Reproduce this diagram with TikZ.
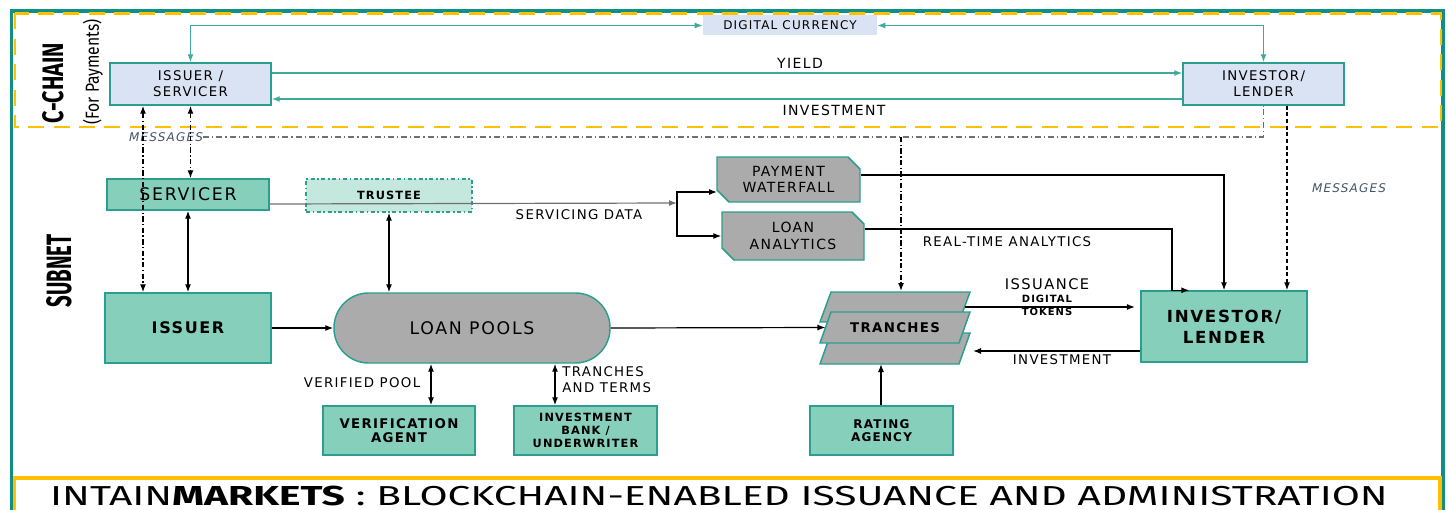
\documentclass[tikz,border=0pt]{standalone}
\usepackage{fontspec}
\setmainfont{DejaVu Sans}[LetterSpace=10]
\newfontfamily\headfont{Fira Sans}
\usetikzlibrary{arrows.meta,shapes.misc}

\definecolor{frameteal}{RGB}{18,143,131}
\definecolor{boxteal}{RGB}{42,158,144}
\definecolor{lineteal}{RGB}{64,168,157}
\definecolor{nodegreen}{RGB}{134,207,186}
\definecolor{trustgreen}{RGB}{197,232,222}
\definecolor{chainblue}{RGB}{218,227,243}
\definecolor{poolgray}{RGB}{171,171,171}
\definecolor{chainyellow}{RGB}{255,192,0}
\definecolor{msggray}{RGB}{112,112,112}
\definecolor{msgtext}{RGB}{68,84,106}

\tikzset{
  chainbox/.style={draw=boxteal, fill=chainblue, line width=1.1pt, align=center, inner sep=0pt, font=\fontsize{10}{12}\selectfont},
  subbox/.style={draw=boxteal, fill=nodegreen, line width=1.1pt, align=center, inner sep=0pt},
  poolbox/.style={draw=boxteal, fill=poolgray, line width=1.1pt, align=center, inner sep=0pt},
  snipbox/.style={poolbox, chamfered rectangle, chamfered rectangle corners={north east,south west}, chamfered rectangle xsep=5pt, chamfered rectangle ysep=4pt},
  tranche/.style={draw=boxteal, fill=poolgray, line width=1.1pt},
  lbl/.style={inner sep=0pt, align=center, font=\fontsize{10}{12}\selectfont},
  msglbl/.style={inner sep=0pt, text=msgtext, font=\fontsize{9}{10}\itshape},
  link/.style={line width=0.9pt},
  teallink/.style={draw=lineteal, line width=1.1pt},
  msgline/.style={draw=msggray, line width=1pt, dash pattern=on 4.5pt off 2.2pt on 1pt off 2.2pt},
  dashdot/.style={line width=1pt, dash pattern=on 4pt off 1.8pt on 1pt off 1.8pt},
}

\begin{document}
\begin{tikzpicture}[x=0.75pt,y=0.75pt,yscale=-1,xscale=1,>={Latex[length=6pt,width=4.5pt]}]
\useasboundingbox (0,0) rectangle (1448,510);

%Outer frame and c-chain band
\draw[frameteal, line width=2.5pt] (11.5,11) rectangle (1443,540);
\draw[chainyellow, line width=2.2pt, dash pattern=on 12pt off 7pt] (15,13.5) rectangle (1441,127);

% Side headings
\node[inner sep=0pt, rotate=90] (chainhd) at (53,83) {\resizebox{60pt}{15.75pt}{\headfont\bfseries C-CHAIN}};
\node[inner sep=0pt, rotate=90] (payhd) at (93,72) {\resizebox*{78.75pt}{15pt}{\headfont (For Payments)}};
\node[inner sep=0pt, rotate=90] (subhd) at (59,271) {\resizebox{54.75pt}{18.75pt}{\headfont\bfseries SUBNET}};

%C-chain nodes
\node[chainbox, minimum width=120.75pt, minimum height=31.5pt] (is) at (190.5,84) {ISSUER /\\SERVICER};
\node[chainbox, minimum width=120.75pt, minimum height=31.5pt] (il) at (1263.5,84) {INVESTOR/\\LENDER};
\node[fill=chainblue, inner sep=0pt, minimum width=130.5pt, minimum height=15pt, font=\fontsize{9}{10}\selectfont] (dc) at (790,25.5) {DIGITAL CURRENCY};

% Level and column marks
\coordinate (yieldY) at (0,73);
\coordinate (investY) at (0,99);
\coordinate (dataY) at (0,204);
\coordinate (pwY) at (0,175);
\coordinate (laY) at (0,229);
\coordinate (msgX) at (1287,0);
\coordinate (issX) at (143,0);
\coordinate (vaX) at (431,0);
\coordinate (ibX) at (555,0);
\coordinate (laX) at (1172,0);
\coordinate (split) at (677,203);
\coordinate (pwIn) at (717,192);
\coordinate (msgT) at (901,137);

%Subnet nodes
\node[subbox, minimum width=121.5pt, minimum height=23.25pt, font=\fontsize{13}{14}\selectfont] (sv) at (188,194.5) {SERVICER};
\node[subbox, fill=trustgreen, dash dot, minimum width=124.5pt, minimum height=24.75pt, font=\fontsize{8.5}{10}\bfseries] (tr) at (389,195.5) {TRUSTEE};
\node[snipbox, minimum width=107.25pt, minimum height=33.75pt, font=\fontsize{10.5}{11.5}\selectfont] (pw) at (788.5,179.5) {PAYMENT\\WATERFALL};
\node[snipbox, minimum width=106.5pt, minimum height=36pt, font=\fontsize{10.5}{13}\selectfont] (la) at (793,236) {LOAN\\ANALYTICS};
\node[subbox, minimum width=124.5pt, minimum height=52.5pt, font=\fontsize{12}{14}\bfseries] (iss) at (188,328) {ISSUER};
\node[poolbox, rounded corners=26pt, minimum width=207pt, minimum height=52.5pt, font=\fontsize{13}{14}\selectfont] (lp) at (472,328) {LOAN POOLS};
\node[subbox, minimum width=114pt, minimum height=36.75pt, font=\fontsize{10}{11}\bfseries] (va) at (399,430.5) {VERIFICATION\\AGENT};
\node[subbox, minimum width=107.25pt, minimum height=36.75pt, font=\fontsize{8.5}{10}\bfseries] (ib) at (585.5,430.5) {INVESTMENT\\BANK /\\UNDERWRITER};
\node[subbox, minimum width=107.25pt, minimum height=36.75pt, font=\fontsize{9}{9.75}\bfseries] (ra) at (881.5,430.5) {RATING\\AGENCY};
\node[subbox, minimum width=124.5pt, minimum height=53.25pt, font=\fontsize{12.5}{15.5}\bfseries] (inv) at (1224,326.5) {INVESTOR/\\LENDER};

%Shape: stacked tranches
\draw[tranche] (831,292) -- (970,292) -- (959,322) -- (820,322) -- cycle;
\draw[tranche] (831,333) -- (970,333) -- (959,364) -- (820,364) -- cycle;
\draw[tranche] (831,312) -- (970,312) -- (959,343) -- (820,343) -- cycle;
\node[inner sep=0pt, minimum width=104pt, minimum height=20pt, font=\fontsize{10}{12}\bfseries] (tranches) at (895,327.5) {TRANCHES};
\coordinate (tTop) at (901,291);
\coordinate (tBot) at (881,364);
\coordinate (tIss) at (965,307);
\coordinate (tInv) at (973,351);

%C-chain payments
\draw[teallink, color=lineteal, <->] (is.north) |- (dc.west);
\draw[teallink, color=lineteal, <->] (il.north) |- (dc.east);
\draw[teallink, color=lineteal, ->] (is.east |- yieldY) -- (il.west |- yieldY);
\draw[teallink, color=lineteal, ->] (il.west |- investY) -- (is.east |- investY);
\node[lbl, font=\fontsize{10.5}{12}\selectfont] (yieldlbl) at (800,63) {YIELD};
\node[lbl, font=\fontsize{10.5}{12}\selectfont] (invlbl) at (834,110) {INVESTMENT};

% Messages
\node[msglbl] (msgl) at (166,137) {MESSAGES};
\node[msglbl] (msgr) at (1349,188) {MESSAGES};
\draw[msgline] (msgl.east) -| (il.south);
\draw[dashdot, ->] (msgT) -- (tTop);
\draw[line width=1pt, densely dashed, ->] (il.south -| msgX) -- (inv.north -| msgX);
\draw[dashdot, <->] (is.south -| issX) -- (iss.north -| issX);
\draw[dashdot, <->] (is.south) -- (sv.north -| is.south);

% Servicing data
\draw[link, draw=msggray, ->] (sv.east |- dataY) -- (split);
\draw[link, ->] (split) |- (pwIn);
\draw[link, ->] (split) |- (la.west);
\node[lbl] (sdlbl) at (579,215) {SERVICING DATA};

%Subnet links
\draw[link, <->] (sv.south) -- (iss.north);
\draw[link, <->] (tr.south) -- (lp.north -| tr.south);
\draw[link, ->] (iss.east) -- (lp.west);
\draw[link, ->] (lp.east) -- (tranches.west);
\draw[link, <->] (lp.south -| vaX) -- (va.north -| vaX);
\draw[link, <->] (lp.south -| ibX) -- (ib.north -| ibX);
\draw[link, ->] (ra.north -| tBot) -- (tBot);
\draw[link, ->] (pw.east |- pwY) -| (inv.north);
\draw[link, ->] (la.east |- laY) -| (inv.north -| laX) -- ([xshift=13pt]inv.north -| laX);
\draw[link, ->] (tIss) -- ([xshift=-4pt]inv.west |- tIss);
\draw[link, ->] (inv.west |- tInv) -- (tInv);

% Text Node
\node[lbl] (rtlbl) at (1007,242) {REAL-TIME ANALYTICS};
\node[lbl, font=\fontsize{11}{12}\selectfont] (isslbl) at (1047,284) {ISSUANCE};
\node[lbl, font=\fontsize{7.5}{9.75}\bfseries] (toklbl) at (1047,305.5) {DIGITAL\\TOKENS};
\node[lbl] (inv2lbl) at (1062,360) {INVESTMENT};
\node[lbl] (vplbl) at (362,383) {VERIFIED POOL};
\node[lbl, anchor=west, align=left] (ttlbl) at (562,379.5) {TRANCHES\\AND TERMS};

%Title bar
\draw[chainyellow, line width=2.5pt, fill=white] (14.5,478) rectangle (1440,540);
\node[inner sep=0pt] (title) at (719,495.5) {\resizebox{1003pt}{14.6pt}{\headfont INTAIN\textbf{MARKETS} : BLOCKCHAIN-ENABLED ISSUANCE AND ADMINISTRATION}};

\end{tikzpicture}
\end{document}
